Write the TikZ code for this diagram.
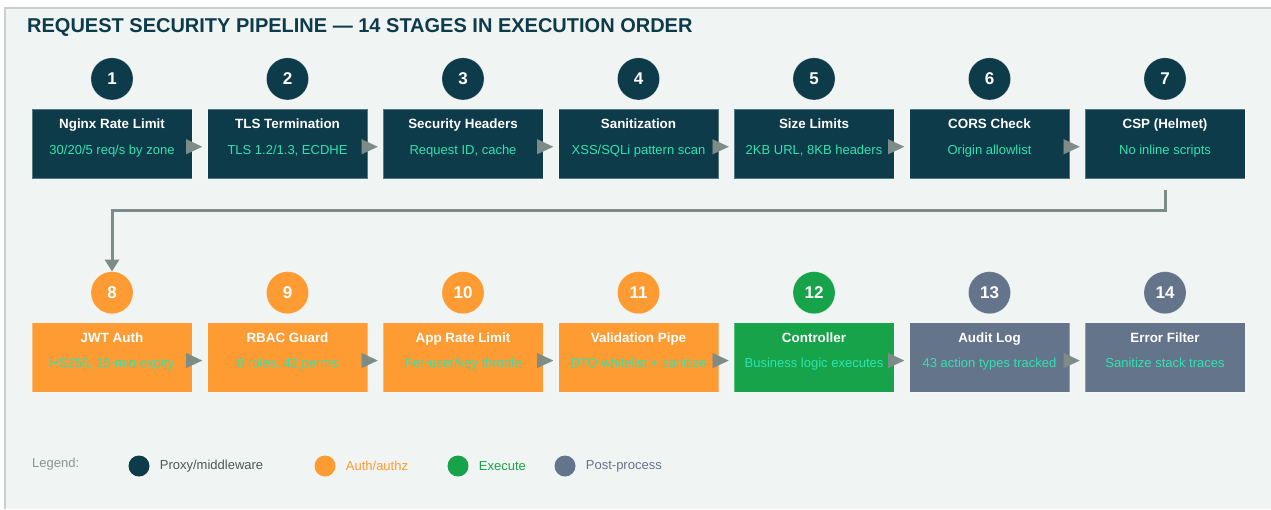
\documentclass[tikz,border=0pt]{standalone}
\usepackage{fontspec}
\setmainfont{Liberation Sans}
\usetikzlibrary{positioning,arrows.meta}

\definecolor{proxy}{HTML}{0D3B4A}
\definecolor{authz}{HTML}{FF9B33}
\definecolor{exec}{HTML}{17A34A}
\definecolor{post}{HTML}{64748B}
\definecolor{mint}{HTML}{2FE3B0}
\definecolor{panel}{HTML}{F0F4F3}
\definecolor{rim}{HTML}{C9D1CF}
\definecolor{hopgrey}{HTML}{7D8B89}
\definecolor{legendgrey}{HTML}{8A9593}
\definecolor{proxytext}{HTML}{4D5756}

\tikzset{
	stage/.style={rectangle, minimum width=160pt, inner xsep=0pt, inner ysep=5.8pt,
		text height=13.5pt, text depth=44.4pt, draw=white, draw opacity=0.3,
		line width=0.8pt, text=white, font=\fontsize{13.4}{16}\selectfont\bfseries},
	sub/.style={text=mint, font=\fontsize{13}{15}\selectfont,
		text height=10pt, text depth=3pt, yshift=-6.75pt},
	badge/.style={circle, minimum size=42pt, inner sep=0pt, text=white,
		font=\fontsize{17}{20}\selectfont\bfseries, draw=white, draw opacity=0.3},
	hop/.style={-{Triangle[length=16pt,width=15pt]}, hopgrey, line width=0.1pt,
		shorten <=-6pt, shorten >=5pt},
	link/.style={-{Triangle[length=12pt,width=14pt]}, hopgrey, line width=3pt},
	key/.style={circle, minimum size=21pt, inner sep=0pt},
	keytext/.style={inner sep=0pt, font=\fontsize{13}{15}\selectfont},
}

\begin{document}
\begin{tikzpicture}[x=1pt, y=-1pt]
	\useasboundingbox (0,0) rectangle (1271,509);
	\fill[panel] (4,7) rectangle (1271,509);
	\draw[rim, line width=1.5pt] (5,509) -- (5,8) -- (1271,8);

	\node[anchor=west, inner sep=0pt, text=proxy, font=\fontsize{20}{24}\selectfont\bfseries]
		(head) at (27,27) {REQUEST SECURITY PIPELINE — 14 STAGES IN EXECUTION ORDER};

	% first row: proxy / middleware
	\node[stage, fill=proxy, label={[sub]center:30/20/5 req/s by zone}] (s1) at (112,143.75) {Nginx Rate Limit};
	\node[stage, fill=proxy, right=14.7pt of s1, label={[sub]center:TLS 1.2/1.3, ECDHE}] (s2) {TLS Termination};
	\node[stage, fill=proxy, right=14.7pt of s2, label={[sub]center:Request ID, cache}] (s3) {Security Headers};
	\node[stage, fill=proxy, right=14.7pt of s3, label={[sub]center:XSS/SQLi pattern scan}] (s4) {Sanitization};
	\node[stage, fill=proxy, right=14.7pt of s4, label={[sub]center:2KB URL, 8KB headers}] (s5) {Size Limits};
	\node[stage, fill=proxy, right=14.7pt of s5, label={[sub]center:Origin allowlist}] (s6) {CORS Check};
	\node[stage, fill=proxy, right=14.7pt of s6, label={[sub]center:No inline scripts}] (s7) {CSP (Helmet)};

	% second row: auth, controller, post-process
	\node[stage, fill=authz, below=143.5pt of s1, label={[sub]center:HS256, 15-min expiry}] (s8) {JWT Auth};
	\node[stage, fill=authz, right=14.7pt of s8, label={[sub]center:8 roles, 42 perms}] (s9) {RBAC Guard};
	\node[stage, fill=authz, right=14.7pt of s9, label={[sub]center:Per-user/key throttle}] (s10) {App Rate Limit};
	\node[stage, fill=authz, right=14.7pt of s10, label={[sub]center:DTO whitelist + sanitize}] (s11) {Validation Pipe};
	\node[stage, fill=exec, right=14.7pt of s11, label={[sub]center:Business logic executes}] (s12) {Controller};
	\node[stage, fill=post, right=14.7pt of s12, label={[sub]center:43 action types tracked}] (s13) {Audit Log};
	\node[stage, fill=post, right=14.7pt of s13, label={[sub]center:Sanitize stack traces}] (s14) {Error Filter};

	% step numbers
	\node[badge, fill=proxy, above=8.5pt of s1] (n1) {1};
	\node[badge, fill=proxy, above=8.5pt of s2] (n2) {2};
	\node[badge, fill=proxy, above=8.5pt of s3] (n3) {3};
	\node[badge, fill=proxy, above=8.5pt of s4] (n4) {4};
	\node[badge, fill=proxy, above=8.5pt of s5] (n5) {5};
	\node[badge, fill=proxy, above=8.5pt of s6] (n6) {6};
	\node[badge, fill=proxy, above=8.5pt of s7] (n7) {7};
	\node[badge, fill=authz, above=8.5pt of s8] (n8) {8};
	\node[badge, fill=authz, above=8.5pt of s9] (n9) {9};
	\node[badge, fill=authz, above=8.5pt of s10] (n10) {10};
	\node[badge, fill=authz, above=8.5pt of s11] (n11) {11};
	\node[badge, fill=exec, above=8.5pt of s12] (n12) {12};
	\node[badge, fill=post, above=8.5pt of s13] (n13) {13};
	\node[badge, fill=post, above=8.5pt of s14] (n14) {14};

	\draw[hop] ([yshift=-3pt]s1.east) -- ([yshift=-3pt]s2.west);
	\draw[hop] ([yshift=-3pt]s2.east) -- ([yshift=-3pt]s3.west);
	\draw[hop] ([yshift=-3pt]s3.east) -- ([yshift=-3pt]s4.west);
	\draw[hop] ([yshift=-3pt]s4.east) -- ([yshift=-3pt]s5.west);
	\draw[hop] ([yshift=-3pt]s5.east) -- ([yshift=-3pt]s6.west);
	\draw[hop] ([yshift=-3pt]s6.east) -- ([yshift=-3pt]s7.west);
	\draw[hop] ([yshift=-3pt]s8.east) -- ([yshift=-3pt]s9.west);
	\draw[hop] ([yshift=-3pt]s9.east) -- ([yshift=-3pt]s10.west);
	\draw[hop] ([yshift=-3pt]s10.east) -- ([yshift=-3pt]s11.west);
	\draw[hop] ([yshift=-3pt]s11.east) -- ([yshift=-3pt]s12.west);
	\draw[hop] ([yshift=-3pt]s12.east) -- ([yshift=-3pt]s13.west);
	\draw[hop] ([yshift=-3pt]s13.east) -- ([yshift=-3pt]s14.west);

	% wrap from the end of row one to stage 8
	\coordinate[below=11pt of s7] (drop);
	\draw[link] (drop) -- ++(0,21) -| (n8.north);

	% legend
	\node[keytext, anchor=west, text=legendgrey] (lg) at (32,464) {Legend:};
	\node[key, fill=proxy] (k1) at (139,466) {};
	\node[keytext, text=proxytext, right=10pt of k1] (t1) {Proxy/middleware};
	\node[key, fill=authz] (k2) at (325,466) {};
	\node[keytext, text=authz, right=10pt of k2] (t2) {Auth/authz};
	\node[key, fill=exec] (k3) at (458,466) {};
	\node[keytext, text=exec, right=10pt of k3] (t3) {Execute};
	\node[key, fill=post] (k4) at (565,466) {};
	\node[keytext, text=post, right=10pt of k4] (t4) {Post-process};
\end{tikzpicture}
\end{document}
